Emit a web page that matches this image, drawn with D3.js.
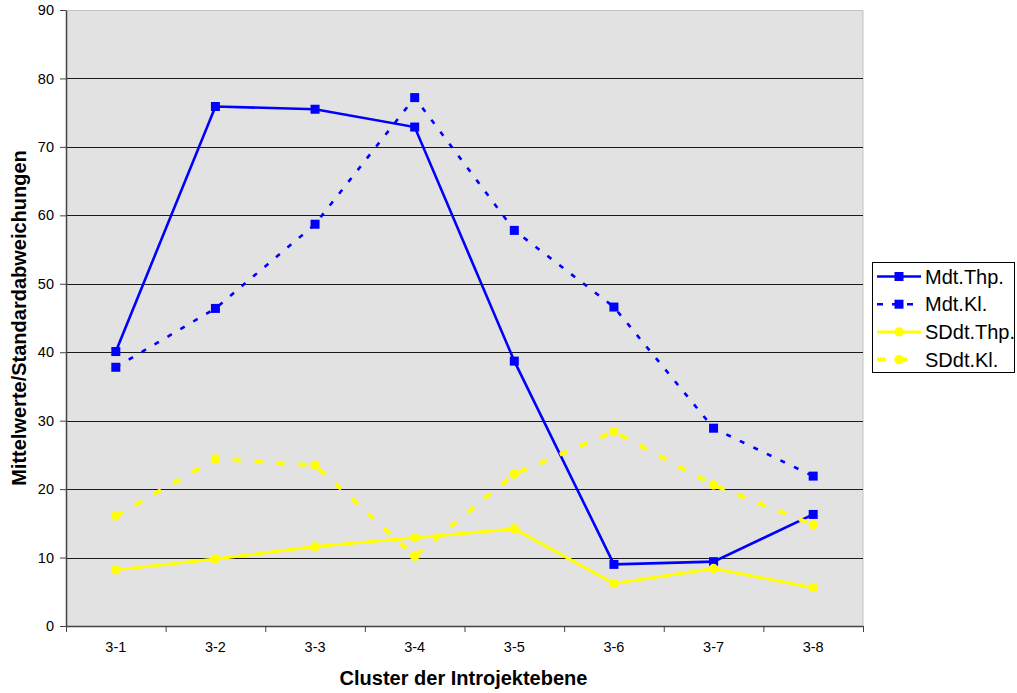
<!DOCTYPE html>
<html>
<head>
<meta charset="utf-8">
<script src="https://cdn.jsdelivr.net/npm/d3@7"></script>
<style>
body{margin:0;background:#fff;}
svg text{font-family:"Liberation Sans",Arial,sans-serif;fill:#000;}
.axis path,.axis line{stroke:#444;}
</style>
</head>
<body>
<div id="chart"></div>
<script>
// Daten
var categories = ["3-1","3-2","3-3","3-4","3-5","3-6","3-7","3-8"];
var mdtThp  = [40.1, 75.9, 75.5, 72.9, 38.7, 9.0, 9.4, 16.3];
var mdtKl   = [37.8, 46.4, 58.7, 77.2, 57.8, 46.6, 28.9, 21.9];
var sddtThp = [8.2, 9.8, 11.6, 12.9, 14.2, 6.2, 8.4, 5.6];
var sddtKl  = [16.1, 24.4, 23.5, 10.2, 22.2, 28.4, 20.6, 14.8];
var yTicks = [0,10,20,30,40,50,60,70,80,90];

var series = [
    {name: "Mdt.Thp.",  values: mdtThp,  color: "#0000ff", dash: null,   width: 2.6, marker: "square"},
    {name: "Mdt.Kl.",   values: mdtKl,   color: "#0000ff", dash: "5,10", width: 2.6, marker: "square"},
    {name: "SDdt.Thp.", values: sddtThp, color: "#ffff00", dash: null,   width: 3,   marker: "circle"},
    {name: "SDdt.Kl.",  values: sddtKl,  color: "#ffff00", dash: "8,14", width: 4,   marker: "circle"}
];

var W = 1017, H = 693;
var margin = {top: 10, left: 66, right: 154, bottom: 67};
var w = W - margin.left - margin.right;  // Zeichenbreite
var h = H - margin.top - margin.bottom;  // Zeichenhoehe

var svg = d3.select("#chart").append("svg")
    .attr("width", W).attr("height", H);
var g = svg.append("g")
    .attr("transform", "translate(" + margin.left + "," + margin.top + ")");

var x = d3.scaleBand().domain(categories).range([0, w]).paddingInner(0).paddingOuter(0);
var xEdge = d3.scaleLinear().domain([0, categories.length]).range([0, w]);
var y = d3.scaleLinear().domain([0, 90]).range([h, 0]);

// Hintergrund
g.append("rect").attr("width", w).attr("height", h)
    .attr("fill", "#e2e2e2").attr("stroke", "none");
g.append("path")
    .attr("d", "M0,0.5H" + w + "V" + h)
    .attr("fill", "none").attr("stroke", "#c4c4c4");

// Gitternetz
g.selectAll(".grid").data(yTicks.filter(function(d){ return d > 0 && d < 90; }))
    .enter().append("line")
    .attr("x1", 0).attr("x2", w)
    .attr("y1", function(d){ return Math.round(y(d)) + 0.5; })
    .attr("y2", function(d){ return Math.round(y(d)) + 0.5; })
    .attr("stroke", "#1a1a1a").attr("stroke-width", 1.2);

// Y-Achse
var yAxis = g.append("g").attr("class", "axis")
    .call(d3.axisLeft(y).tickValues(yTicks).tickSize(6).tickPadding(6).tickSizeOuter(0));
yAxis.selectAll("text").style("font-size", "14.5px");
yAxis.select(".domain").attr("stroke-width", 1.5);

// X-Achse: Striche an den Kategoriegrenzen
var xTicks = g.append("g").attr("class", "axis")
    .attr("transform", "translate(0," + h + ")")
    .call(d3.axisBottom(xEdge).tickValues(d3.range(0, categories.length + 1)).tickFormat("").tickSize(6).tickSizeOuter(0));
xTicks.select(".domain").attr("stroke-width", 1.5);
var xLabels = g.append("g")
    .attr("transform", "translate(0," + h + ")")
    .call(d3.axisBottom(x).tickSize(0).tickPadding(16));
xLabels.select(".domain").remove();
xLabels.selectAll("text").style("font-size", "14.5px");

// Linien
var line = d3.line()
    .x(function(d, i){ return x(categories[i]) + x.bandwidth() / 2; })
    .y(function(d){ return y(d); });

series.forEach(function(s){
    g.append("path")
        .attr("d", line(s.values))
        .attr("fill", "none")
        .attr("stroke", s.color)
        .attr("stroke-width", s.width)
        .attr("stroke-dasharray", s.dash);
});
series.forEach(function(s){
    var m = g.append("g").selectAll("x").data(s.values).enter();
    if (s.marker == "square") {
        m.append("rect")
            .attr("x", function(d, i){ return x(categories[i]) + x.bandwidth() / 2 - 4.5; })
            .attr("y", function(d){ return y(d) - 4.5; })
            .attr("width", 9).attr("height", 9)
            .attr("fill", s.color);
    } else {
        m.append("circle")
            .attr("cx", function(d, i){ return x(categories[i]) + x.bandwidth() / 2; })
            .attr("cy", function(d){ return y(d); })
            .attr("r", 4.7)
            .attr("fill", s.color);
    }
});

// Achsentitel
svg.append("text")
    .attr("x", margin.left + w / 2 - 1).attr("y", 685)
    .attr("text-anchor", "middle")
    .style("font-size", "20px").style("font-weight", "bold")
    .text("Cluster der Introjektebene");
svg.append("text")
    .attr("transform", "translate(26," + (margin.top + h / 2) + ") rotate(-90)")
    .attr("text-anchor", "middle")
    .style("font-size", "20px").style("font-weight", "bold")
    .text("Mittelwerte/Standardabweichungen");

// Legende
var legend = svg.append("g").attr("class", "legend");
legend.append("rect")
    .attr("x", 872.5).attr("y", 262.5).attr("width", 142).attr("height", 110)
    .attr("fill", "#fff").attr("stroke", "#000");
var items = legend.selectAll(".item").data(series).enter().append("g")
    .attr("transform", function(d, i){ return "translate(0," + (276.5 + i * 27.7) + ")"; });
items.append("line")
    .attr("x1", 877).attr("x2", 921).attr("y1", 0).attr("y2", 0)
    .attr("stroke", function(d){ return d.color; })
    .attr("stroke-width", function(d){ return d.width; })
    .attr("stroke-dasharray", function(d){ return d.dash ? (d.marker == "square" ? "6,9" : "8,14") : null; });
items.each(function(d){
    var it = d3.select(this);
    if (d.marker == "square") {
        it.append("rect").attr("x", 894.5).attr("y", -4.5).attr("width", 9).attr("height", 9).attr("fill", d.color);
    } else {
        it.append("circle").attr("cx", 899).attr("cy", 0).attr("r", 4.7).attr("fill", d.color);
    }
});
items.append("text")
    .attr("x", 925).attr("y", 0).attr("dy", "0.36em")
    .style("font-size", "20px")
    .text(function(d){ return d.name; });
</script>
</body>
</html>
